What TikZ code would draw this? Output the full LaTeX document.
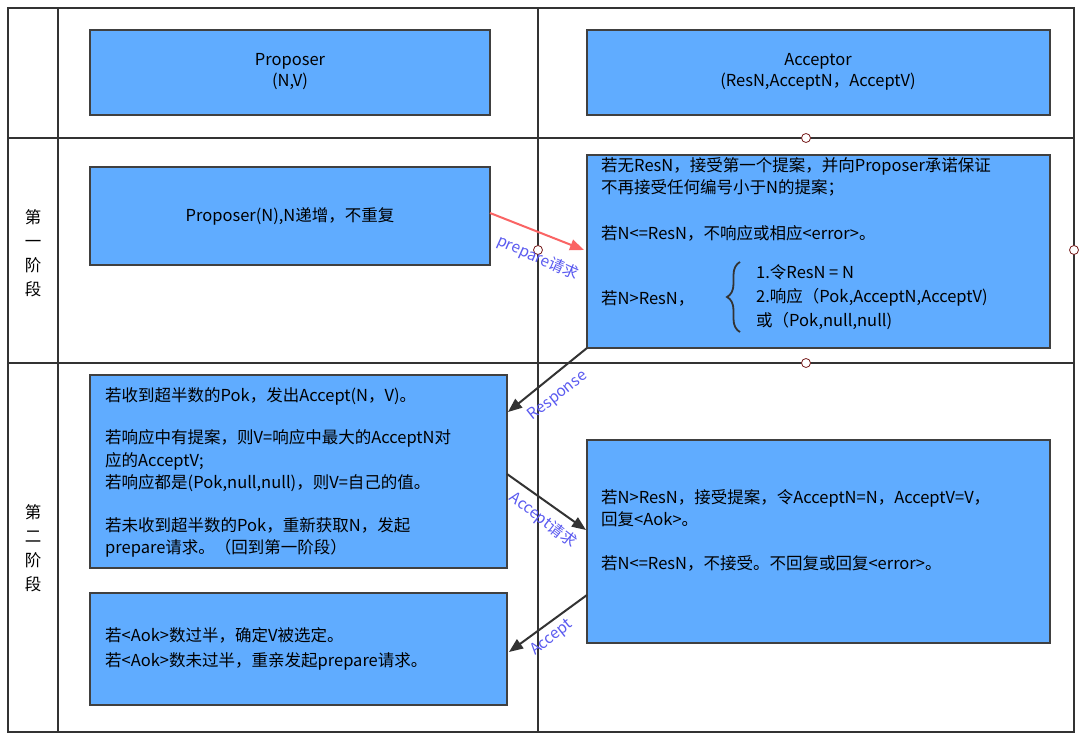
\documentclass[tikz,border=0pt]{standalone}
\usepackage{fontspec}
\setmainfont{Noto Sans CJK SC}
\usetikzlibrary{decorations.pathreplacing,arrows.meta}
\begin{document}
\begin{tikzpicture}[x=1pt,y=-1pt,
  grid/.style={line width=1.6pt,draw=black!80},
  bx/.style={draw=black!75,line width=1.3pt,fill={rgb,255:red,96;green,172;blue,255}},
  txt/.style={font=\fontsize{16.5}{22.5}\selectfont,align=left,anchor=north west,inner sep=0},
  ctxt/.style={font=\fontsize{16.5}{21}\selectfont,align=center,inner sep=0},
  lbl/.style={font=\fontsize{15.5}{17}\selectfont,text={rgb,255:red,90;green,90;blue,240},inner sep=0},
  hc/.style={circle,draw={rgb,255:red,120;green,30;blue,30},fill=white,inner sep=0,minimum size=9pt,line width=0.8pt},
  arr/.style={line width=2pt,draw=black!80,-{Triangle[length=14pt,width=11pt]}}]
\useasboundingbox (0,0) rectangle (1080,735);
\fill[white] (0,0) rectangle (1080,735);
\draw[grid] (8,8) rectangle (1074,732);
\draw[grid] (58,8) -- (58,732);
\draw[grid] (538,8) -- (538,732);
\draw[grid] (8,138) -- (1074,138);
\draw[grid] (8,363) -- (1074,363);
\node[hc] (c1) at (806,138) {};
\node[hc] (c2) at (806,363) {};
\node[hc] (c3) at (538,250) {};
\node[hc] (c4) at (1074,250) {};
\node[ctxt,font=\fontsize{16.5}{24}\selectfont] (s1) at (33,253) {第\\一\\阶\\段};
\node[ctxt,font=\fontsize{16.5}{24}\selectfont] (s2) at (33,548) {第\\二\\阶\\段};
\draw[bx] (90,30) rectangle (490,115);
\node[ctxt] (prop) at (290,72) {Proposer\\(N,V)};
\draw[bx] (587,30) rectangle (1050,115);
\node[ctxt] (acc) at (818,72) {Acceptor\\(ResN,AcceptN，AcceptV)};
\draw[bx] (90,167) rectangle (490,265);
\node[ctxt] (pn) at (290,216) {Proposer(N),N递增，不重复};
\draw[bx] (587,155) rectangle (1050,348);
\node[txt] (a1) at (601,157) {若无ResN，接受第一个提案，并向Proposer承诺保证\\不再接受任何编号小于N的提案；};
\node[txt] (a2) at (601,225) {若N<=ResN，不响应或相应<error>。};
\node[txt] (a3) at (601,290) {若N>ResN，};
\draw[decorate,decoration={brace,amplitude=13pt,mirror},line width=1.8pt,draw=black!80] (740,262) -- (740,332);
\node[txt,font=\fontsize{16.5}{24}\selectfont] (a4) at (756,264) {1.令ResN = N\\2.响应（Pok,AcceptN,AcceptV)\\或（Pok,null,null)};
\draw[bx] (90,375) rectangle (507,568);
\node[txt] (b1) at (105,387) {若收到超半数的Pok，发出Accept(N，V)。\\[20pt]若响应中有提案，则V=响应中最大的AcceptN对\\应的AcceptV;\\若响应都是(Pok,null,null)，则V=自己的值。\\[20pt]若未收到超半数的Pok，重新获取N，发起\\prepare请求。（回到第一阶段）};
\draw[bx] (90,593) rectangle (507,705);
\node[txt,font=\fontsize{16.5}{25}\selectfont] (b2) at (105,627) {若<Aok>数过半，确定V被选定。\\若<Aok>数未过半，重亲发起prepare请求。};
\draw[bx] (587,440) rectangle (1050,643);
\node[txt] (r1) at (601,489) {若N>ResN，接受提案，令AcceptN=N，AcceptV=V，\\回复<Aok>。\\[21pt]若N<=ResN，不接受。不回复或回复<error>。};
\coordinate (p1) at (490,213); \coordinate (p2) at (584,250);
\draw[line width=2pt,draw={rgb,255:red,250;green,100;blue,100},-{Triangle[length=14pt,width=11pt]}] (p1) -- (p2);
\coordinate (q1) at (587,348); \coordinate (q2) at (508,412);
\draw[arr] (q1) -- (q2);
\coordinate (u1) at (507,474); \coordinate (u2) at (586,530);
\draw[arr] (u1) -- (u2);
\coordinate (v1) at (587,595); \coordinate (v2) at (509,652);
\draw[arr] (v1) -- (v2);
\node[lbl,rotate=-24] (l1) at (538,258) {prepare请求};
\node[lbl,rotate=38] (l2) at (558,396) {Response};
\node[lbl,rotate=-38] (l3) at (543,520) {Accept请求};
\node[lbl,rotate=38] (l4) at (552,638) {Accept};
\end{tikzpicture}
\end{document}
